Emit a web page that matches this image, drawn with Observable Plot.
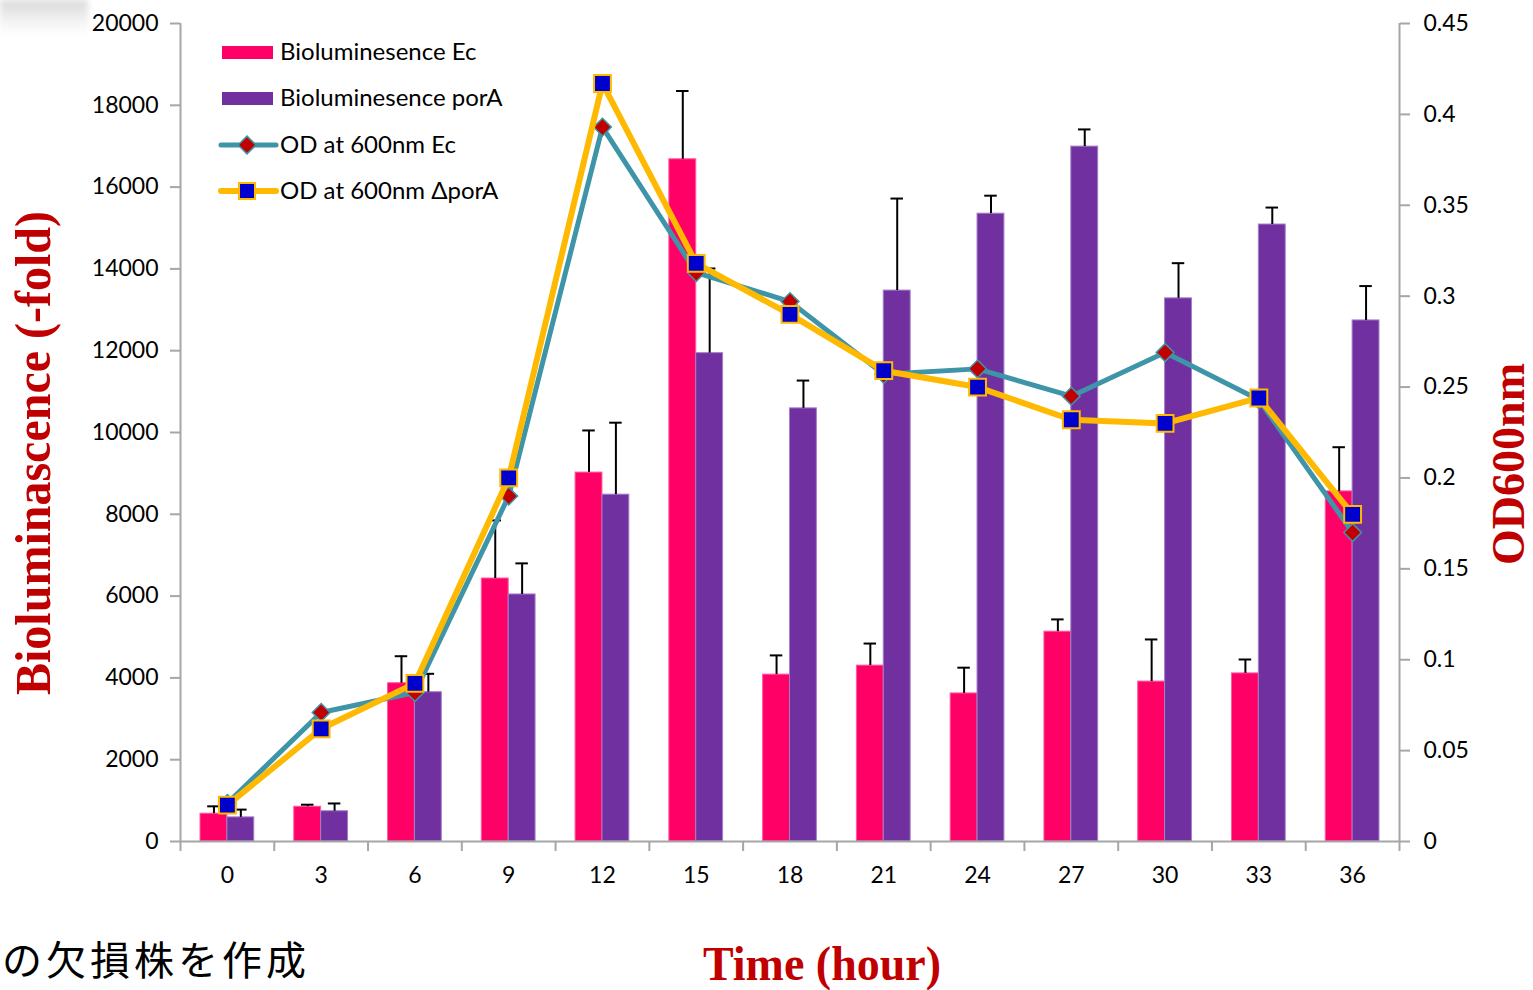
<!DOCTYPE html>
<html>
<head>
<meta charset="utf-8">
<script src="https://cdn.jsdelivr.net/npm/d3@7"></script>
<script src="https://cdn.jsdelivr.net/npm/@observablehq/plot@0.6"></script>
<style>
  html, body { margin:0; padding:0; background:#fff; }
  #wrap { position:relative; width:1533px; height:990px; overflow:hidden; background:#fff; }
  .ttl { position:absolute; font-family:"Liberation Serif","Times New Roman",serif; font-weight:bold; color:#c00000; white-space:nowrap; line-height:1; }
  #legend { position:absolute; left:0; top:0; }
  #jp { position:absolute; left:2px; top:937px; font-family:"Noto Sans CJK JP",sans-serif; font-size:40px; letter-spacing:4px; line-height:1.05; color:#000; white-space:nowrap; }
  #smudge { position:absolute; left:0; top:0; width:88px; height:34px; background:linear-gradient(180deg,#d8d8d8 0%,#eeeeee 50%,#ffffff 100%); filter:blur(3px); }
</style>
</head>
<body>
<div id="wrap">
  <div id="chart"></div>
  <div id="smudge"></div>
  <div class="ttl" id="ylab" style="font-size:48px; left:33px; top:453px; transform:translate(-50%,-50%) rotate(-90deg) scaleY(1.05);">Bioluminascence (-fold)</div>
  <div class="ttl" id="y2lab" style="font-size:46px; left:1509px; top:464px; transform:translate(-50%,-50%) rotate(-90deg);">OD600nm</div>
  <div class="ttl" id="xlab" style="font-size:46px; left:822px; top:964px; transform:translate(-50%,-50%) scaleY(1.04);">Time (hour)</div>
  <div id="jp">の欠損株を作成</div>
</div>
<script>
// ---- data ----
const times = [0, 3, 6, 9, 12, 15, 18, 21, 24, 27, 30, 33, 36];
const bioEc = [680, 850, 3870, 6430, 9020, 16680, 4080, 4300, 3620, 5130, 3910, 4110, 8560];
const bioEcErr = [180, 50, 660, 1420, 1030, 1670, 470, 540, 630, 300, 1030, 340, 1080];
const bioPor = [590, 740, 3650, 6040, 8480, 11940, 10590, 13470, 15350, 16990, 13280, 15085, 12740];
const bioPorErr = [190, 190, 450, 760, 1760, 2070, 680, 2250, 440, 420, 860, 415, 840];
const odEc = [0.021, 0.071, 0.082, 0.190, 0.393, 0.313, 0.297, 0.257, 0.260, 0.245, 0.269, 0.243, 0.170];
const odPor = [0.020, 0.062, 0.087, 0.200, 0.417, 0.318, 0.290, 0.259, 0.250, 0.232, 0.230, 0.244, 0.180];
const leftTicks = [0, 2000, 4000, 6000, 8000, 10000, 12000, 14000, 16000, 18000, 20000];
const rightTicks = [0, 0.05, 0.1, 0.15, 0.2, 0.25, 0.3, 0.35, 0.4, 0.45];
const legendLabels = ["Bioluminesence Ec", "Bioluminesence porA", "OD at 600nm Ec", "OD at 600nm \u0394porA"];

// ---- styles ----
const C = { ec:"#ff0066", por:"#7030a0", teal:"#3e95a8", yellow:"#ffb900", diamond:"#c00000", square:"#0000cc", axis:"#a6a6a6" };
const yMax = 20000, odMax = 0.45, k = yMax / odMax;
const step = 3;
const bw = 0.86;       // bar width in hours
const capHalf = 0.2;

const rows = times.map((t, i) => ({
  t, ec: bioEc[i], ecE: bioEcErr[i], por: bioPor[i], porE: bioPorErr[i],
  od1: odEc[i] * k, od2: odPor[i] * k
}));
const boundaries = [...times.map(t => t - step/2), times[times.length-1] + step/2];

const chart = Plot.plot({
  width: 1533, height: 990,
  marginLeft: 180, marginRight: 134, marginTop: 23, marginBottom: 149,
  x: { domain: [times[0] - step/2, times[times.length-1] + step/2], axis: null },
  y: { domain: [0, yMax], axis: null },
  style: { fontFamily: "Lato, 'Open Sans', sans-serif", fontSize: "23px", color: "#000", background: "#fff", overflow: "visible" },
  marks: [
    Plot.rectY(rows, { x1: d => d.t - bw, x2: d => d.t, y: "ec", fill: C.ec, stroke: "#ff5c9d", strokeWidth: 1 }),
    Plot.rectY(rows, { x1: d => d.t, x2: d => d.t + bw, y: "por", fill: C.por, stroke: "#a37fc6", strokeWidth: 1 }),
    Plot.ruleX(rows, { x: d => d.t - bw/2, y1: "ec", y2: d => d.ec + d.ecE, stroke: "#000", strokeWidth: 2 }),
    Plot.ruleY(rows, { y: d => d.ec + d.ecE, x1: d => d.t - bw/2 - capHalf, x2: d => d.t - bw/2 + capHalf, stroke: "#000", strokeWidth: 2 }),
    Plot.ruleX(rows, { x: d => d.t + bw/2, y1: "por", y2: d => d.por + d.porE, stroke: "#000", strokeWidth: 2 }),
    Plot.ruleY(rows, { y: d => d.por + d.porE, x1: d => d.t + bw/2 - capHalf, x2: d => d.t + bw/2 + capHalf, stroke: "#000", strokeWidth: 2 }),
    Plot.ruleX([times[0] - step/2], { stroke: C.axis, strokeWidth: 2 }),
    Plot.ruleX([times[times.length-1] + step/2], { stroke: C.axis, strokeWidth: 2 }),
    Plot.ruleY([0], { stroke: C.axis, strokeWidth: 2 }),
    Plot.axisY({ anchor: "left", ticks: leftTicks, tickSize: 10, tickPadding: 12, tickFormat: d => String(d), stroke: C.axis, strokeWidth: 2, fill: "#000", fontSize: 23, label: null }),
    Plot.axisY({ anchor: "right", ticks: rightTicks.map(v => v * k), tickSize: 10, tickPadding: 14, tickFormat: d => String(+(d / k).toFixed(3)), stroke: C.axis, strokeWidth: 2, fill: "#000", fontSize: 23, label: null }),
    Plot.axisX({ ticks: boundaries, tickSize: 10, tickFormat: () => "", stroke: C.axis, strokeWidth: 2, label: null }),
    Plot.axisX({ ticks: times, tickSize: 0, tickPadding: 25, tickFormat: d => String(d), fill: "#000", fontSize: 23, label: null }),
    Plot.line(rows, { x: "t", y: "od1", stroke: C.teal, strokeWidth: 5 }),
    Plot.dot(rows, { x: "t", y: "od1", symbol: "diamond2", r: 8, fill: C.diamond, stroke: C.teal, strokeWidth: 1.5 }),
    Plot.line(rows, { x: "t", y: "od2", stroke: C.yellow, strokeWidth: 6 }),
    Plot.dot(rows, { x: "t", y: "od2", symbol: "square", r: 9.5, fill: C.square, stroke: C.yellow, strokeWidth: 2 })
  ]
});
document.getElementById("chart").appendChild(chart);

// ---- legend (overlay) ----
const lg = d3.select("#wrap").append("svg").attr("id", "legend")
  .attr("width", 600).attr("height", 230)
  .style("font-family", "Lato, 'Open Sans', sans-serif").style("font-size", "24px");
const rowY = [52, 98, 145, 191];
lg.append("rect").attr("x", 222).attr("y", rowY[0] - 6).attr("width", 51).attr("height", 13).attr("fill", C.ec);
lg.append("rect").attr("x", 222).attr("y", rowY[1] - 6).attr("width", 51).attr("height", 13).attr("fill", C.por);
lg.append("line").attr("x1", 221).attr("x2", 276).attr("y1", rowY[2]).attr("y2", rowY[2]).attr("stroke", C.teal).attr("stroke-width", 5).attr("stroke-linecap", "round");
lg.append("path").attr("d", d3.symbol(d3.symbolDiamond2, Math.PI * 8 * 8)()).attr("transform", `translate(247,${rowY[2]})`).attr("fill", C.diamond).attr("stroke", C.teal).attr("stroke-width", 1.5);
lg.append("line").attr("x1", 221).attr("x2", 276).attr("y1", rowY[3]).attr("y2", rowY[3]).attr("stroke", C.yellow).attr("stroke-width", 6).attr("stroke-linecap", "round");
lg.append("path").attr("d", d3.symbol(d3.symbolSquare, Math.PI * 9 * 9)()).attr("transform", `translate(247,${rowY[3]})`).attr("fill", C.square).attr("stroke", C.yellow).attr("stroke-width", 2);
legendLabels.forEach((s, i) => {
  lg.append("text").attr("x", 280).attr("y", rowY[i]).attr("dy", "0.35em").attr("fill", "#000").text(s);
});
</script>
</body>
</html>
